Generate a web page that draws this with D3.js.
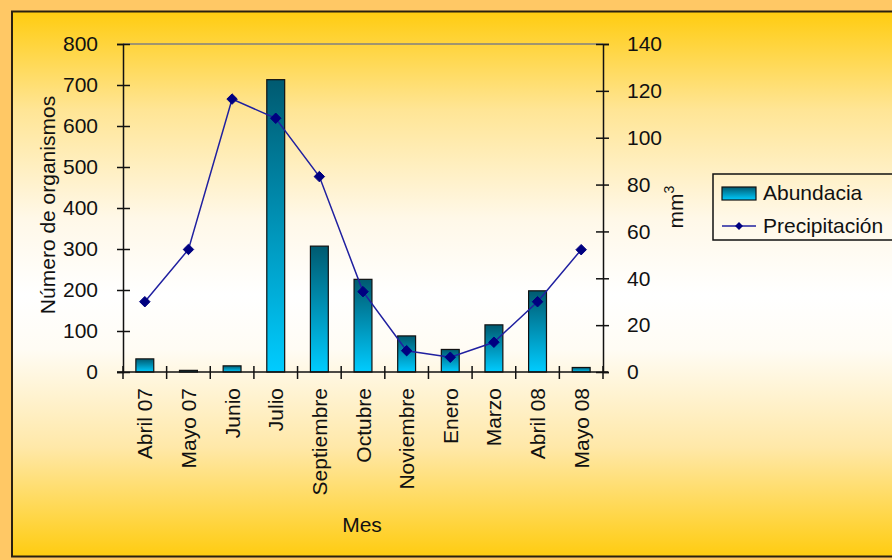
<!DOCTYPE html>
<html><head><meta charset="utf-8">
<script src="https://cdn.jsdelivr.net/npm/d3@7"></script>
<style>body{margin:0;background:#FFC865;} svg{display:block;}</style>
</head><body>
<svg id="c" width="892" height="560"></svg>
<script>
const categories = ["Abril 07","Mayo 07","Junio","Julio","Septiembre","Octubre","Noviembre","Enero","Marzo","Abril 08","Mayo 08"];
const abundancia = [32, 4, 15, 713, 307, 226, 88, 55, 115, 198, 11];
const precipitacion = [30, 52.3, 116.5, 108.3, 83.4, 34.3, 9.1, 6.3, 12.7, 30, 52.2];
const leftTicks = [0,100,200,300,400,500,600,700,800];
const rightTicks = [0,20,40,60,80,100,120,140];

const svg = d3.select("#c");
const FONT = "'Liberation Sans', Arial, sans-serif";
const FS = 21;
const defs = svg.append("defs");
const bg = defs.append("linearGradient").attr("id","bg").attr("x1",0).attr("y1",0).attr("x2",0).attr("y2",1);
[[0,"#FFCC10"],[0.18,"#FFE595"],[0.38,"#FFF8E8"],[0.52,"#FFFFFF"],[0.62,"#FFFCF4"],[0.8,"#FFE8A8"],[1,"#FFCC10"]]
  .forEach(s=>bg.append("stop").attr("offset",s[0]).attr("stop-color",s[1]));
const bar = defs.append("linearGradient").attr("id","bar").attr("x1",0).attr("y1",0).attr("x2",0).attr("y2",1);
bar.append("stop").attr("offset","0").attr("stop-color","#005A70");
bar.append("stop").attr("offset","1").attr("stop-color","#00CCFF");

svg.append("rect").attr("width",892).attr("height",560).attr("fill","#FFC865");
svg.append("rect").attr("x",12).attr("y",11.5).attr("width",900).attr("height",545)
  .attr("fill","url(#bg)").attr("stroke","#2a2010").attr("stroke-width",2);

const L=123, R=603, T=44, B=372;
const x = d3.scaleBand().domain(categories).range([L,R]).padding(0);
const yL = d3.scaleLinear().domain([0,800]).range([B,T]);
const yR = d3.scaleLinear().domain([0,140]).range([B,T]);

svg.append("line").attr("x1",L).attr("x2",R).attr("y1",yL(800)).attr("y2",yL(800))
  .attr("stroke","#808080").attr("stroke-width",1.5);

const bw = x.bandwidth()*0.41;
svg.append("g").selectAll("rect").data(categories).join("rect")
  .attr("x",(d)=>x(d)+x.bandwidth()/2-bw/2)
  .attr("y",(d,i)=>yL(abundancia[i]))
  .attr("width",bw)
  .attr("height",(d,i)=>B-yL(abundancia[i]))
  .attr("fill","url(#bar)").attr("stroke","#111").attr("stroke-width",1.2);

const line = d3.line().x((d,i)=>x(categories[i])+x.bandwidth()/2).y(d=>yR(d));
svg.append("path").attr("d",line(precipitacion)).attr("fill","none")
  .attr("stroke","#2020A0").attr("stroke-width",1.5);
svg.append("g").selectAll("path").data(precipitacion).join("path")
  .attr("d",d3.symbol(d3.symbolDiamond2,70)())
  .attr("transform",(d,i)=>`translate(${x(categories[i])+x.bandwidth()/2},${yR(d)})`)
  .attr("fill","#000080").attr("stroke","#000080").attr("stroke-width",1).attr("stroke-linejoin","round");

function styleAxis(g){
  g.select(".domain").attr("stroke","#111").attr("stroke-width",1.5);
  g.selectAll(".tick line").attr("stroke","#111").attr("stroke-width",1.5);
  g.selectAll("text").attr("font-family",FONT).attr("font-size",FS).attr("fill","#111");
}
const gl = svg.append("g").attr("transform",`translate(${L},0)`)
  .call(d3.axisLeft(yL).tickValues(leftTicks).tickSizeOuter(0).tickPadding(19).tickSize(6));
gl.selectAll(".tick line").attr("x1",-6).attr("x2",7);
styleAxis(gl);
const gr = svg.append("g").attr("transform",`translate(${R},0)`)
  .call(d3.axisRight(yR).tickValues(rightTicks).tickSizeOuter(0).tickPadding(18).tickSize(6));
gr.selectAll(".tick line").attr("x1",-7).attr("x2",6);
styleAxis(gr);

const gx = svg.append("g");
gx.append("line").attr("x1",L-6).attr("x2",R+5).attr("y1",B).attr("y2",B).attr("stroke","#111").attr("stroke-width",1.5);
const bounds = categories.map(c=>x(c)).concat([R]);
gx.selectAll("line.t").data(bounds).join("line").attr("class","t")
  .attr("x1",d=>d).attr("x2",d=>d).attr("y1",B-6).attr("y2",B+7)
  .attr("stroke","#111").attr("stroke-width",1.5);
gx.selectAll("text").data(categories).join("text")
  .attr("transform",d=>`translate(${x(d)+x.bandwidth()/2},388) rotate(-90)`)
  .attr("dy","0.36em").attr("text-anchor","end")
  .attr("font-family",FONT).attr("font-size",FS).attr("fill","#111").text(d=>d);

svg.append("text").attr("transform","translate(55,205) rotate(-90)").attr("text-anchor","middle")
  .attr("font-family",FONT).attr("font-size",FS).attr("fill","#111").text("Número de organismos");
const mm = svg.append("text").attr("transform","translate(683,207) rotate(-90)").attr("text-anchor","middle")
  .attr("font-family",FONT).attr("font-size",FS).attr("fill","#111");
mm.append("tspan").text("mm");
mm.append("tspan").attr("font-size",14).attr("dy",-9).text("3");
svg.append("text").attr("x",362).attr("y",532).attr("text-anchor","middle")
  .attr("font-family",FONT).attr("font-size",FS).attr("fill","#111").text("Mes");

const lg = svg.append("g");
lg.append("rect").attr("x",713).attr("y",174).attr("width",200).attr("height",66)
  .attr("fill","none").attr("stroke","#111").attr("stroke-width",1.5);
lg.append("rect").attr("x",722).attr("y",187).attr("width",34).attr("height",13)
  .attr("fill","url(#bar)").attr("stroke","#111").attr("stroke-width",1.2);
lg.append("text").attr("x",763).attr("y",200).attr("font-family",FONT).attr("font-size",FS).attr("fill","#111").text("Abundacia");
lg.append("line").attr("x1",722).attr("x2",756).attr("y1",226).attr("y2",226).attr("stroke","#2020A0").attr("stroke-width",1.5);
lg.append("path").attr("d",d3.symbol(d3.symbolDiamond2,40)()).attr("transform","translate(739,226)").attr("fill","#000080");
lg.append("text").attr("x",763).attr("y",233).attr("font-family",FONT).attr("font-size",FS).attr("fill","#111").text("Precipitación");
</script>
</body></html>
